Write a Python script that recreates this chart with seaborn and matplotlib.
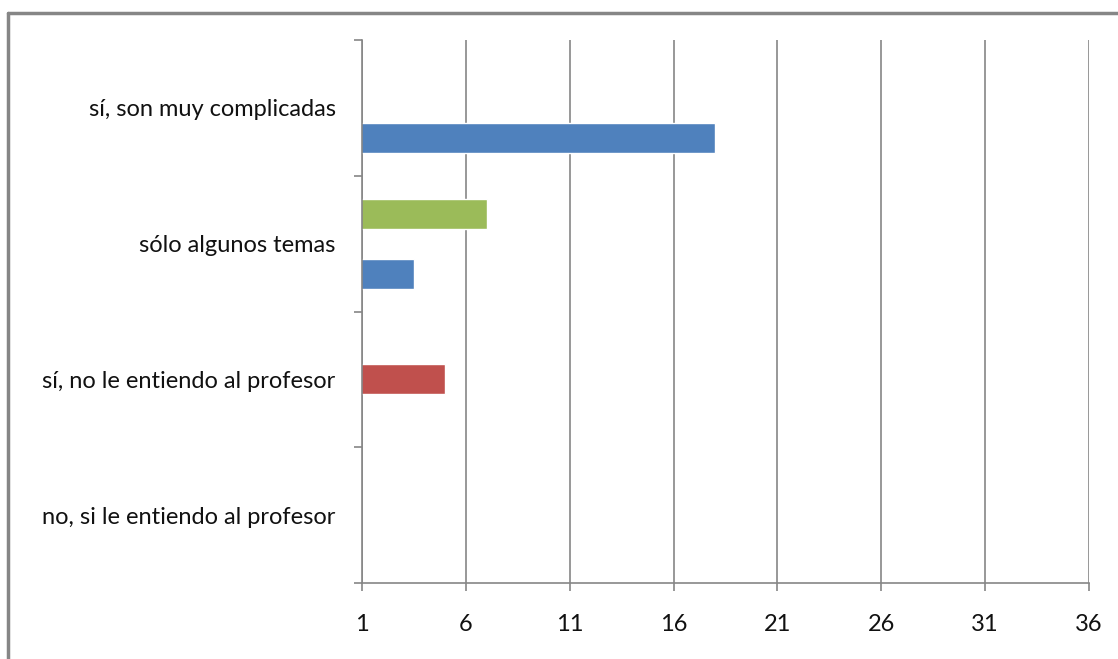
import numpy as np
import pandas as pd
import matplotlib
matplotlib.use("Agg")
import matplotlib.pyplot as plt
import seaborn as sns

# Data (categories listed top to bottom as shown)
categories = ["sí, son muy complicadas", "sólo algunos temas",
              "sí, no le entiendo al profesor", "no, si le entiendo al profesor"]
serie_azul = [18, 3.5, np.nan, np.nan]
serie_roja = [np.nan, np.nan, 5, np.nan]
serie_verde = [np.nan, 7, np.nan, np.nan]
series_names = ["Serie1", "Serie2", "Serie3"]
x_ticks = [1, 6, 11, 16, 21, 26, 31, 36]

rows = []
for name, vals in zip(series_names, [serie_azul, serie_roja, serie_verde]):
    for c, v in zip(categories, vals):
        rows.append({"categoria": c, "serie": name, "valor": v})
df = pd.DataFrame(rows)

sns.set_theme(style="white")
plt.rcParams['font.family'] = ['Lato', 'DejaVu Sans']

fig = plt.figure(figsize=(11.18, 6.59), dpi=100)
ax = fig.add_axes([362/1118, 1-583/659, (1089-362)/1118, (583-40)/659])

palette = {"Serie1": "#4F81BD", "Serie2": "#C0504D", "Serie3": "#9BBB59"}
sns.barplot(data=df, y="categoria", x="valor", hue="serie",
            order=categories, hue_order=["Serie3", "Serie2", "Serie1"],
            palette=palette, orient="h", width=0.663, saturation=1,
            dodge=True, ax=ax, legend=False, errorbar=None)

ax.set_xlim(1, 36)
ax.set_ylim(3.5, -0.5)
ax.set_xticks(x_ticks)
ax.set_xticklabels([str(t) for t in x_ticks])
ax.set_xlabel("")
ax.set_ylabel("")

grid_c = "#868686"
ax.grid(axis="x", color=grid_c, linewidth=1.2)
ax.grid(axis="y", visible=False)
ax.set_axisbelow(True)
for s in ["top", "right"]:
    ax.spines[s].set_visible(False)
for s in ["left", "bottom"]:
    ax.spines[s].set_color(grid_c)
    ax.spines[s].set_linewidth(1.2)

ax.set_yticks([-0.5, 0.5, 1.5, 2.5, 3.5], minor=True)
ax.tick_params(axis="y", which="major", length=0, pad=19, labelsize=17, labelcolor="#111111")
ax.tick_params(axis="y", which="minor", length=6, color=grid_c, width=1.2, left=True)
ax.tick_params(axis="x", which="major", length=6, color=grid_c, width=1.2, pad=16,
               labelsize=17, labelcolor="#111111", bottom=True)

# outer chart frame (left and top visible)
fig.add_artist(plt.Line2D([8/1118, 8/1118], [0, 1-13/659], transform=fig.transFigure,
                          color=grid_c, linewidth=2.5))
fig.add_artist(plt.Line2D([8/1118, 1], [1-13/659, 1-13/659], transform=fig.transFigure,
                          color=grid_c, linewidth=2.5))

fig.savefig("out.png", dpi=100)
